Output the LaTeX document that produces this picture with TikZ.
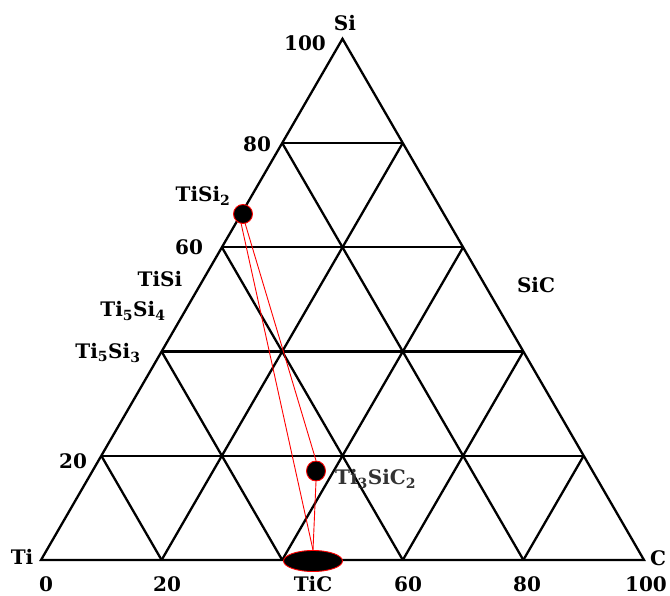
\documentclass[tikz,border=0pt]{standalone}
\usepackage{fontspec}
\setmainfont{DejaVu Serif}
\usetikzlibrary{calc,shapes.geometric}
\begin{document}
\begin{tikzpicture}[x=1pt,y=-1pt,
  grid/.style={line width=2.3pt,line join=miter},
  tie/.style={red,line width=0.9pt},
  phase/.style={fill=black,draw=red,line width=0.9pt},
  lab/.style={font=\fontsize{20}{22}\selectfont\bfseries,inner sep=0pt}]
\useasboundingbox (0,0) rectangle (670,596);
\coordinate (Ti) at (41,560);
\coordinate (C) at (644,560);
\coordinate (Si) at (342.5,38.8);
\draw[grid] (Ti) -- (C) -- (Si) -- cycle;
\foreach \k/\m in {0.2/0.8,0.4/0.6,0.6/0.4,0.8/0.2}{
  \draw[grid] ($(Ti)!\k!(Si)$) -- ($(C)!\k!(Si)$);
  \draw[grid] ($(Ti)!\k!(C)$) -- ($(C)!\m!(Si)$);
  \draw[grid] ($(Ti)!\k!(C)$) -- ($(Ti)!\k!(Si)$);
}
% phases
\node[phase,circle,minimum size=19pt,inner sep=0pt] (tisi2) at (243,214) {};
\node[phase,ellipse,minimum width=19pt,minimum height=20pt,inner sep=0pt] (ti3) at (316,471) {};
\node[phase,ellipse,minimum width=59pt,minimum height=21pt,inner sep=0pt] (tic) at (313,561) {};
\coordinate (a1) at (241,223);
\coordinate (a2) at (245,223);
\draw[tie] (a1) -- (tic.north);
\draw[tie] (a2) -- (ti3.north);
\draw[tie] (ti3.south) -- (tic.north);
% labels
\node[lab] (lSi) at (345,23) {Si};
\node[lab] (l100) at (305,43) {100};
\node[lab] (l80) at (257,144) {80};
\node[lab] (lTiSi2) at (203,196) {TiSi\textsubscript{2}};
\node[lab] (l60) at (189,247) {60};
\node[lab] (lTiSi) at (160,279) {TiSi};
\node[lab] (lTi5Si4) at (133,311) {Ti\textsubscript{5}Si\textsubscript{4}};
\node[lab] (lTi5Si3) at (108,353) {Ti\textsubscript{5}Si\textsubscript{3}};
\node[lab] (l20l) at (73,461) {20};
\node[lab] (lTi) at (22,557) {Ti};
\node[lab] (l0) at (46,584) {0};
\node[lab] (l20b) at (167,584) {20};
\node[lab] (lTiC) at (313,584) {TiC};
\node[lab] (l60b) at (408,584) {60};
\node[lab] (l80b) at (527,584) {80};
\node[lab] (l100b) at (646,584) {100};
\node[lab] (lC) at (658,558) {C};
\node[lab] (lSiC) at (536,285) {SiC};
\node[lab,text=black!80,anchor=west] (lTi3) at (335,479) {Ti\textsubscript{3}SiC\textsubscript{2}};
\end{tikzpicture}
\end{document}
